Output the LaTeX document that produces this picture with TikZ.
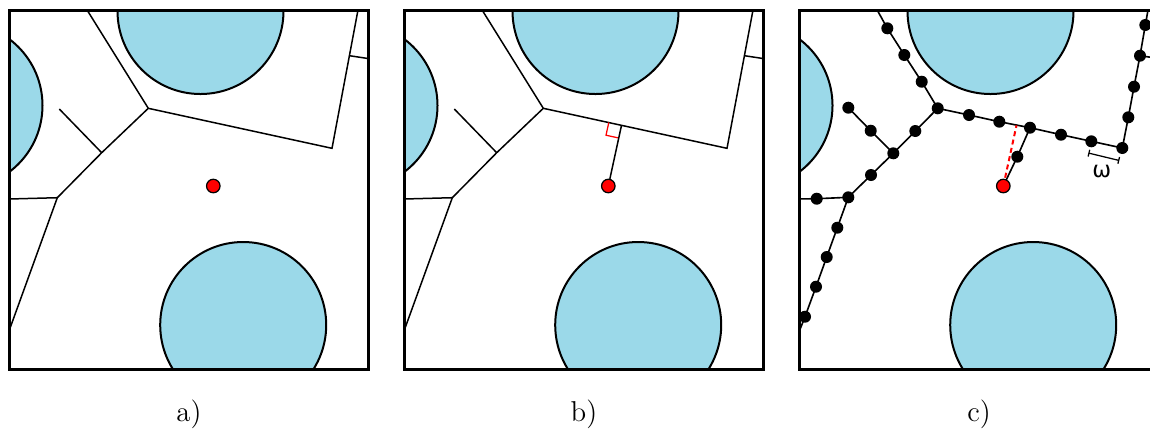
\documentclass[tikz,border=0pt]{standalone}
\usepackage{fontspec}
\newfontfamily\omegafont{DejaVu Sans}
\usetikzlibrary{arrows.meta}
\definecolor{diskblue}{RGB}{155,217,233}
\definecolor{targetred}{RGB}{255,0,0}
\begin{document}
\begin{tikzpicture}[x=0.4pt,y=-0.4pt,
  frame/.style={line width=1.2pt},
  disk/.style={fill=diskblue, draw=black, line width=0.8pt},
  vedge/.style={line width=0.6pt},
  skel/.style={line width=0.65pt},
  sdot/.style={circle, fill=black, inner sep=0pt, minimum size=4.8pt},
  target/.style={circle, fill=targetred, draw=black, line width=0.5pt, inner sep=0pt, minimum size=5.4pt},
  lbl/.style={font=\fontsize{11.5}{13}\selectfont, inner sep=0pt},
  rmark/.style={draw=targetred, line width=0.5pt},
  rdash/.style={draw=targetred, line width=0.8pt, dash pattern=on 2pt off 1.4pt},
  wbar/.style={line width=0.5pt, {Bar[width=2.8pt]}-{Bar[width=2.8pt]}}
]
\useasboundingbox (0,0) rectangle (1150,429);
\fill[white] (0,0) rectangle (1150,429);

\newcommand\disksframe{%
  \begin{scope}
    \clip (9.5,10.5) rectangle (368.5,369.5);
    \draw[disk] (200.5,11) circle[radius=33.2pt];
    \draw[disk] (-40.5,105.5) circle[radius=33.2pt];
    \draw[disk] (243.2,325) circle[radius=33.2pt];
  \end{scope}}
\newcommand\voronoi{%
  \begin{scope}
    \clip (9.5,10.5) rectangle (368.5,369.5);
    \coordinate (T1) at (87.7,11);
    \coordinate (V1) at (148.3,108.3);
    \coordinate (C) at (332,148.3);
    \coordinate (T2) at (357.8,11);
    \coordinate (S1) at (349.5,55.7);
    \coordinate (S2) at (370,58.8);
    \coordinate (M) at (101.7,152.7);
    \coordinate (B) at (59.3,109);
    \coordinate (V2) at (57.3,197.7);
    \coordinate (L1) at (5,199.1);
    \coordinate (L2) at (5,342);
    \draw[vedge] (T1) -- (V1) -- (C) -- (T2);
    \draw[vedge] (S1) -- (S2);
    \draw[vedge] (V1) -- (M) -- (V2) -- (L1);
    \draw[vedge] (M) -- (B);
    \draw[vedge] (V2) -- (L2);
  \end{scope}}

\begin{scope}
  \clip (0,0) rectangle (1150,429);

  % ---------- panel a ----------
  \begin{scope}
    \disksframe
    \voronoi
    \node[target] (ra) at (213.3,186) {};
    \draw[frame] (9.5,10.5) rectangle (368.5,369.5);
  \end{scope}
  \node[lbl] (la) at (189,414) {a)};

  % ---------- panel b ----------
  \begin{scope}[shift={(395,0)}]
    \disksframe
    \voronoi
    \coordinate (F) at (226.5,125.3);
    \coordinate (Q1) at (213.8,122.5);
    \coordinate (Q2) at (211.0,135.2);
    \coordinate (Q3) at (223.7,138.0);
    \draw[rmark] (Q1) -- (Q2) -- (Q3);
    \node[target] (rb) at (213.3,186) {};
    \draw[vedge] (F) -- (rb);
    \draw[frame] (9.5,10.5) rectangle (368.5,369.5);
  \end{scope}
  \node[lbl] (lb) at (584,414) {b)};

  % ---------- panel c ----------
  \begin{scope}[shift={(790,0)}]
    \disksframe
    \begin{scope}
      \clip (9.5,10.5) rectangle (368.5,369.5);
      \coordinate (e0) at (87.7,11);
      \coordinate (e1) at (97.3,28.3);
      \coordinate (e2) at (114.3,55);
      \coordinate (e3) at (131.7,81.7);
      \coordinate (W1) at (147.7,108.3);
      \coordinate (f1) at (179,115);
      \coordinate (f2) at (209.3,121.7);
      \coordinate (f3) at (240,127.7);
      \coordinate (f4) at (271,134.7);
      \coordinate (f5) at (301.3,141.3);
      \coordinate (W3) at (332.3,148);
      \coordinate (g1) at (338.3,117.3);
      \coordinate (g2) at (344,86.7);
      \coordinate (g3) at (350,55.7);
      \coordinate (g4) at (355.3,25);
      \coordinate (g5) at (358,10);
      \coordinate (gs) at (370,58.6);
      \coordinate (h1) at (227.3,156.7);
      \coordinate (i1) at (125.3,131);
      \coordinate (J) at (103.3,153.3);
      \coordinate (i2) at (81,175);
      \coordinate (W2) at (58.3,197.3);
      \coordinate (j1) at (80.7,130.7);
      \coordinate (j2) at (58.3,107.7);
      \coordinate (k1) at (26.7,198.7);
      \coordinate (k2) at (5,199);
      \coordinate (m1) at (47.3,227.7);
      \coordinate (m2) at (36.7,257);
      \coordinate (m3) at (26,286.7);
      \coordinate (m4) at (15,316.7);
      \coordinate (m5) at (5,342);
      \coordinate (R) at (213.3,186);
      \coordinate (Fc) at (226.5,125.3);
      \draw[skel] (e0) -- (e1) -- (e2) -- (e3) -- (W1);
      \draw[skel] (W1) -- (f1) -- (f2) -- (f3) -- (f4) -- (f5) -- (W3);
      \draw[skel] (W3) -- (g1) -- (g2) -- (g3) -- (g4) -- (g5);
      \draw[skel] (g3) -- (gs);
      \draw[skel] (R) -- (h1) -- (f3);
      \draw[skel] (W1) -- (i1) -- (J) -- (i2) -- (W2);
      \draw[skel] (J) -- (j1) -- (j2);
      \draw[skel] (W2) -- (k1) -- (k2);
      \draw[skel] (W2) -- (m1) -- (m2) -- (m3) -- (m4) -- (m5);
      \draw[rdash] (R) -- (Fc);
      \foreach \p in {e1,e2,e3,W1,f1,f2,f3,f4,f5,W3,g1,g2,g3,g4,h1,i1,J,i2,W2,j1,j2,k1,m1,m2,m3,m4}
        \node[sdot] (d\p) at (\p) {};
      \node[target] (rc) at (R) {};
      \coordinate (ob1) at (298.3,153);
      \coordinate (ob2) at (329.3,160.5);
      \draw[wbar] (ob1) -- (ob2);
      \node[font=\omegafont\fontsize{9}{10}\selectfont, inner sep=0pt] (om) at (311.7,171.5) {ω};
    \end{scope}
    \draw[frame] (9.5,10.5) rectangle (368.5,369.5);
  \end{scope}
  \node[lbl] (lc) at (979,414) {c)};
\end{scope}
\end{tikzpicture}
\end{document}
